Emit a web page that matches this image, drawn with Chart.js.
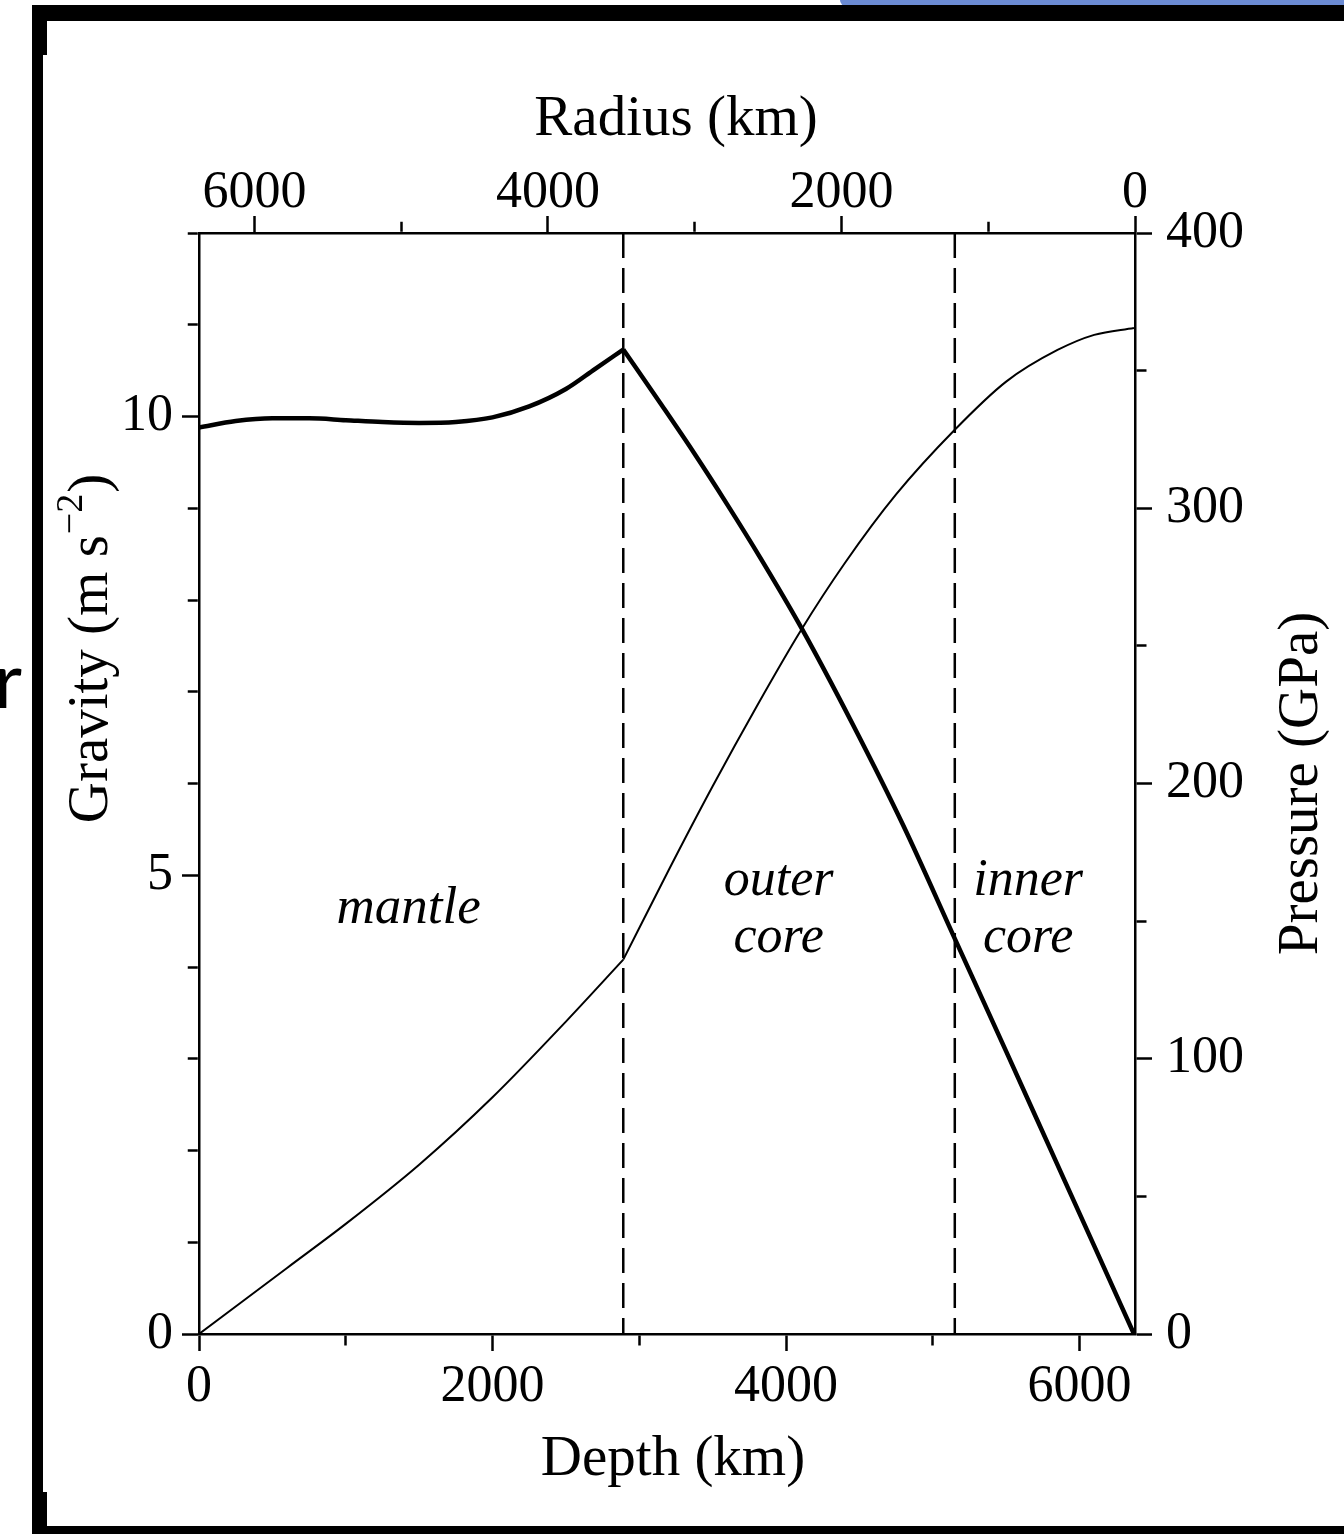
<!DOCTYPE html>
<html><head><meta charset="utf-8">
<script src="https://cdn.jsdelivr.net/npm/chart.js@4.4.1/dist/chart.umd.min.js"></script>
<style>
html,body{margin:0;padding:0;background:#fff;}
body{width:1344px;height:1534px;position:relative;overflow:hidden;}
#c{position:absolute;left:0;top:0;}
.blk{position:absolute;background:#000;}
#edge{position:absolute;left:-6px;top:640px;font-family:Lato,sans-serif;font-size:77px;line-height:77px;color:#000;}
</style></head><body>
<canvas id="c" width="1344" height="1534"></canvas>
<div class="blk" style="left:840px;top:0;width:504px;height:6px;background:#6b8bd3;border-bottom-left-radius:8px"></div>
<div class="blk" style="left:32px;top:5px;width:1312px;height:16px"></div>
<div class="blk" style="left:32px;top:5px;width:15px;height:50px"></div>
<div class="blk" style="left:32px;top:5px;width:11px;height:1529px"></div>
<div class="blk" style="left:32px;top:1492px;width:15px;height:42px"></div>
<div class="blk" style="left:32px;top:1526px;width:1312px;height:8px"></div>
<div id="edge">r</div>
<script>
// ---- data ----
const mantleDepth   = [0, 250, 500, 750, 1000, 1250, 1500, 1750, 2000, 2250, 2500, 2700, 2891];
const mantleGravity = [9.88, 9.95, 9.98, 9.98, 9.96, 9.94, 9.93, 9.94, 9.99, 10.11, 10.30, 10.52, 10.73];
const coreDepth     = [2891, 3150, 3370, 3600, 3825, 4100, 4450, 4800, 5150, 5500, 5800, 6100, 6371];
const coreGravity   = [10.73, 10.13, 9.61, 9.04, 8.46, 7.71, 6.66, 5.54, 4.31, 3.08, 2.02, 0.96, 0];

const mantlePDepth   = [0, 300, 600, 1000, 1500, 2000, 2500, 2891];
const mantlePressure = [0, 12, 24, 40, 61.5, 86, 113.5, 136];
const corePDepth     = [2891, 3200, 3500, 3800, 4100, 4400, 4750, 5150, 5500, 5850, 6100, 6371];
const corePressure   = [136, 168.5, 199, 228, 255.5, 280, 305, 328.5, 346, 357.5, 363, 365.5];

const boundaryDepth = [2891, 5150];

const regionNames   = [['mantle'], ['outer', 'core'], ['inner', 'core']];
const regionDepth   = [1428, 3950, 5650];
const regionGravity = [4.48, 4.785, 4.785];

const depthTicks    = [0, 1000, 2000, 3000, 4000, 5000, 6000];
const radiusTicks   = [0, 1000, 2000, 3000, 4000, 5000, 6000];
const gravityTicks  = [0, 1, 2, 3, 4, 5, 6, 7, 8, 9, 10, 11, 12];
const pressureTicks = [0, 50, 100, 150, 200, 250, 300, 350, 400];
const depthLabelled    = [0, 2000, 4000, 6000];
const radiusLabelled   = [0, 2000, 4000, 6000];
const gravityLabelled  = [0, 5, 10];
const pressureLabelled = [0, 100, 200, 300, 400];

const depthMax = 6378, gravityMax = 12, pressureMax = 400;

// ---- helpers ----
const pts = (xs, ys) => xs.map((x, i) => ({x, y: ys[i]}));
const FONT = "'Liberation Serif', 'Times New Roman', serif";
Chart.defaults.font.family = FONT;
Chart.defaults.color = '#000';

function gridFor(labelled, outerFirst) {
  return {
    drawOnChartArea: false, drawTicks: true, tickLength: 17, tickWidth: 2.5, tickColor: '#000',
    tickBorderDash: c => (c.tick && labelled.includes(c.tick.value)) ? [] : [10, 20],
    tickBorderDashOffset: c => (c.tick && labelled.includes(c.tick.value)) ? 0 : (outerFirst ? 24.25 : 0)
  };
}
function ticksFor(labelled, pad) {
  return {
    padding: pad, color: '#000',
    font: {family: FONT, size: 52, lineHeight: 1},
    maxRotation: 0, minRotation: 0, autoSkip: false,
    callback: v => labelled.includes(v) ? String(v) : ''
  };
}
const setTicks = values => s => { s.ticks = values.map(v => ({value: v})); };
const border = {display: true, color: '#000', width: 2.5};

const lineStyle = (w) => ({borderColor: '#000', borderWidth: w, pointRadius: 0, fill: false,
  cubicInterpolationMode: 'monotone', showLine: true});

const datasets = [
  Object.assign({label: 'gravity mantle', data: pts(mantleDepth, mantleGravity), xAxisID: 'x', yAxisID: 'y'}, lineStyle(4.5)),
  Object.assign({label: 'gravity core', data: pts(coreDepth, coreGravity), xAxisID: 'x', yAxisID: 'y'}, lineStyle(4.5)),
  Object.assign({label: 'pressure mantle', data: pts(mantlePDepth, mantlePressure), xAxisID: 'x', yAxisID: 'y2'}, lineStyle(2)),
  Object.assign({label: 'pressure core', data: pts(corePDepth, corePressure), xAxisID: 'x', yAxisID: 'y2'}, lineStyle(2)),
];
boundaryDepth.forEach(d => {
  datasets.push({label: 'boundary', data: [{x: d, y: gravityMax}, {x: d, y: 0}], xAxisID: 'x', yAxisID: 'y',
    borderColor: '#000', borderWidth: 2.5, borderDash: [25, 10], pointRadius: 0, showLine: true, tension: 0});
});

const textPlugin = {
  id: 'texts',
  afterDraw(chart) {
    const {ctx, chartArea: a, scales} = chart;
    ctx.save();
    ctx.fillStyle = '#000';
    ctx.textBaseline = 'alphabetic';
    // region labels
    ctx.textAlign = 'center';
    regionNames.forEach((lines, i) => {
      ctx.font = (i === 0 ? "italic 53px " : "italic 52px ") + FONT;
      const px = scales.x.getPixelForValue(regionDepth[i]);
      const py = scales.y.getPixelForValue(regionGravity[i]);
      lines.forEach((t, j) => ctx.fillText(t, px, py + j * 57));
    });
    // axis titles
    ctx.font = "57px " + FONT;
    const cx = (a.left + a.right) / 2;
    ctx.fillText('Radius (km)', cx + 9, a.top - 98);
    ctx.fillText('Depth (km)', cx + 6, a.bottom + 141);
    const cy = (a.top + a.bottom) / 2;
    ctx.save();
    ctx.translate(a.right + 182, cy);
    ctx.rotate(-Math.PI / 2);
    ctx.fillText('Pressure (GPa)', 0, 0);
    ctx.restore();
    // Gravity (m s^-2) with superscript
    const main = 'Gravity (m s', sup = '\u22122', close = ')';
    ctx.font = "57px " + FONT;
    const w1 = ctx.measureText(main).width, w3 = ctx.measureText(close).width;
    ctx.font = "38px " + FONT;
    const w2 = ctx.measureText(sup).width;
    const W = w1 + w2 + w3 + 2;
    ctx.save();
    ctx.translate(a.left - 92, cy - 135);
    ctx.rotate(-Math.PI / 2);
    ctx.textAlign = 'left';
    ctx.font = "57px " + FONT;
    ctx.fillText(main, -W / 2, 0);
    ctx.font = "38px " + FONT;
    ctx.fillText(sup, -W / 2 + w1 + 1, -25);
    ctx.font = "57px " + FONT;
    ctx.fillText(close, -W / 2 + w1 + w2 + 2, 0);
    ctx.restore();
    ctx.restore();
  }
};

new Chart(document.getElementById('c'), {
  type: 'scatter',
  data: {datasets},
  options: {
    responsive: false, animation: false, devicePixelRatio: 1,
    layout: {padding: 0},
    plugins: {legend: {display: false}, tooltip: {enabled: false}},
    scales: {
      x: {type: 'linear', position: 'bottom', min: 0, max: depthMax, bounds: 'data',
          ticks: ticksFor(depthLabelled, 10), grid: gridFor(depthLabelled, false), border,
          afterBuildTicks: setTicks(depthTicks),
          afterFit: s => { s.height = 200; }},
      x2: {type: 'linear', position: 'top', min: 0, max: depthMax, reverse: true, bounds: 'data',
          ticks: ticksFor(radiusLabelled, -3), grid: gridFor(radiusLabelled, true), border,
          afterBuildTicks: setTicks(radiusTicks),
          afterFit: s => { s.height = 233; }},
      y: {type: 'linear', position: 'left', min: 0, max: gravityMax, bounds: 'data',
          ticks: ticksFor(gravityLabelled, 9), grid: gridFor(gravityLabelled, true), border,
          afterBuildTicks: setTicks(gravityTicks),
          afterFit: s => { s.width = 199; }},
      y2: {type: 'linear', position: 'right', min: 0, max: pressureMax, bounds: 'data',
          ticks: ticksFor(pressureLabelled, 14), grid: gridFor(pressureLabelled, false), border,
          afterBuildTicks: setTicks(pressureTicks),
          afterFit: s => { s.width = 209; }}
    }
  },
  plugins: [textPlugin]
});
</script>
</body></html>
